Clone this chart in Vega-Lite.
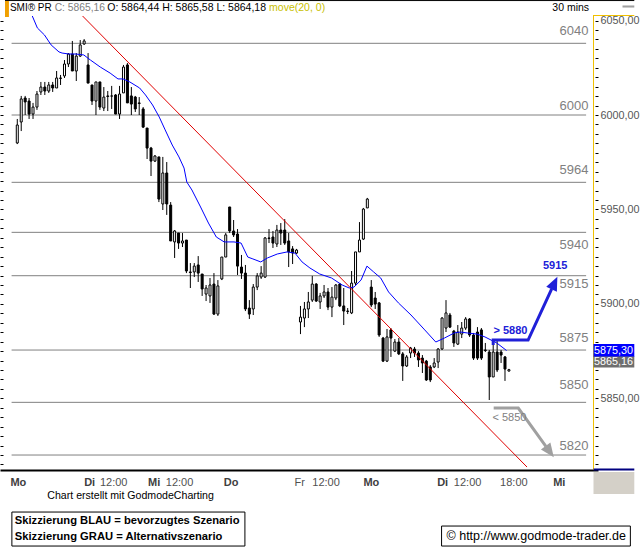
{
"$schema": "https://vega.github.io/schema/vega-lite/v6.json",
"width": 598, "height": 454,
"autosize": {"type": "none"},
"padding": {"left": 0, "top": 16, "right": 42, "bottom": 80},
"background": "white",
"config": {"view": {"stroke": null}, "font": "Liberation Sans"},
"resolve": {"axis": {"x": "independent", "y": "independent"}},
"datasets": {
"candles": [
{"i":0,"o":5985.2,"h":5997.9,"l":5984.6,"c":5994.7},
{"i":1,"o":5996.3,"h":6010.1,"l":5991.5,"c":6008.5},
{"i":2,"o":6009.0,"h":6010.1,"l":6000.0,"c":6006.9},
{"i":3,"o":6007.4,"h":6009.0,"l":5997.9,"c":6000.5},
{"i":4,"o":6000.5,"h":6006.4,"l":5997.9,"c":6004.2},
{"i":5,"o":6004.2,"h":6012.7,"l":6002.7,"c":6011.1},
{"i":6,"o":6012.2,"h":6017.5,"l":6010.6,"c":6014.8},
{"i":7,"o":6014.8,"h":6017.5,"l":6010.6,"c":6012.7},
{"i":8,"o":6012.7,"h":6017.5,"l":6011.7,"c":6015.9},
{"i":9,"o":6015.9,"h":6017.5,"l":6012.2,"c":6014.3},
{"i":10,"o":6014.3,"h":6023.3,"l":6014.3,"c":6019.6},
{"i":11,"o":6019.6,"h":6021.2,"l":6015.9,"c":6019.4},
{"i":12,"o":6020.7,"h":6029.1,"l":6019.6,"c":6027.0},
{"i":13,"o":6027.0,"h":6032.8,"l":6025.4,"c":6032.3},
{"i":14,"o":6032.3,"h":6039.2,"l":6023.3,"c":6023.3},
{"i":15,"o":6023.3,"h":6032.8,"l":6018.0,"c":6031.2},
{"i":16,"o":6031.2,"h":6039.7,"l":6030.7,"c":6037.1},
{"i":17,"o":6037.6,"h":6040.2,"l":6037.1,"c":6039.2},
{"i":18,"o":6026.5,"h":6032.8,"l":6016.9,"c":6016.9},
{"i":19,"o":6015.9,"h":6015.9,"l":6005.3,"c":6007.4},
{"i":20,"o":6007.4,"h":6017.5,"l":6000.0,"c":6017.5},
{"i":21,"o":6017.5,"h":6017.5,"l":6002.7,"c":6004.2},
{"i":22,"o":6003.7,"h":6014.8,"l":6002.1,"c":6009.5},
{"i":23,"o":6010.1,"h":6012.7,"l":6002.1,"c":6009.8},
{"i":24,"o":6010.0,"h":6015.4,"l":6003.2,"c":6010.1},
{"i":25,"o":6010.6,"h":6011.1,"l":6000.5,"c":6000.5},
{"i":26,"o":6000.5,"h":6015.4,"l":5997.9,"c":6011.1},
{"i":27,"o":6011.7,"h":6026.5,"l":6011.7,"c":6025.4},
{"i":28,"o":6026.5,"h":6027.5,"l":6006.4,"c":6006.4},
{"i":29,"o":6010.1,"h":6014.8,"l":6000.0,"c":6005.8},
{"i":30,"o":6009.5,"h":6010.1,"l":6001.6,"c":6003.2},
{"i":31,"o":6006.4,"h":6009.5,"l":6000.0,"c":6006.1},
{"i":32,"o":6003.2,"h":6004.2,"l":5993.1,"c":5993.6},
{"i":33,"o":5993.1,"h":5993.1,"l":5976.7,"c":5982.5},
{"i":34,"o":5982.5,"h":5983.1,"l":5967.7,"c":5975.6},
{"i":35,"o":5975.6,"h":5978.8,"l":5975.1,"c":5978.3},
{"i":36,"o":5977.8,"h":5977.8,"l":5953.9,"c":5955.5},
{"i":37,"o":5952.9,"h":5977.8,"l":5949.7,"c":5969.3},
{"i":38,"o":5969.3,"h":5975.1,"l":5947.1,"c":5952.9},
{"i":39,"o":5952.3,"h":5953.9,"l":5933.3,"c":5933.3},
{"i":40,"o":5932.8,"h":5939.1,"l":5924.3,"c":5938.6},
{"i":41,"o":5937.5,"h":5937.5,"l":5929.1,"c":5932.2},
{"i":42,"o":5932.2,"h":5937.5,"l":5930.1,"c":5933.3},
{"i":43,"o":5933.8,"h":5933.8,"l":5916.3,"c":5917.4},
{"i":44,"o":5916.9,"h":5921.6,"l":5908.4,"c":5916.6},
{"i":45,"o":5916.9,"h":5921.6,"l":5914.2,"c":5920.0},
{"i":46,"o":5920.6,"h":5925.3,"l":5911.6,"c":5916.3},
{"i":47,"o":5915.8,"h":5915.8,"l":5904.2,"c":5907.9},
{"i":48,"o":5905.2,"h":5910.0,"l":5901.5,"c":5908.4},
{"i":49,"o":5904.2,"h":5913.7,"l":5900.5,"c":5910.0},
{"i":50,"o":5910.5,"h":5916.3,"l":5894.1,"c":5894.6},
{"i":51,"o":5894.6,"h":5912.6,"l":5893.6,"c":5909.5},
{"i":52,"o":5913.2,"h":5924.8,"l":5912.6,"c":5924.8},
{"i":53,"o":5924.8,"h":5937.5,"l":5924.8,"c":5936.5},
{"i":54,"o":5951.3,"h":5951.3,"l":5937.5,"c":5938.6},
{"i":55,"o":5938.6,"h":5944.4,"l":5935.4,"c":5936.5},
{"i":56,"o":5937.0,"h":5939.6,"l":5915.3,"c":5920.0},
{"i":57,"o":5919.5,"h":5925.9,"l":5913.2,"c":5916.3},
{"i":58,"o":5916.3,"h":5920.6,"l":5896.2,"c":5897.3},
{"i":59,"o":5897.8,"h":5902.0,"l":5892.0,"c":5894.6},
{"i":60,"o":5897.3,"h":5910.5,"l":5894.1,"c":5908.9},
{"i":61,"o":5908.9,"h":5916.3,"l":5907.3,"c":5914.8},
{"i":62,"o":5914.2,"h":5920.0,"l":5913.2,"c":5916.3},
{"i":63,"o":5914.2,"h":5935.4,"l":5913.7,"c":5934.9},
{"i":64,"o":5934.9,"h":5939.6,"l":5932.2,"c":5934.6},
{"i":65,"o":5935.4,"h":5938.6,"l":5929.6,"c":5932.2},
{"i":66,"o":5931.7,"h":5941.8,"l":5930.1,"c":5939.1},
{"i":67,"o":5939.1,"h":5942.8,"l":5931.2,"c":5937.5},
{"i":68,"o":5939.1,"h":5944.9,"l":5931.2,"c":5932.2},
{"i":69,"o":5933.3,"h":5937.5,"l":5919.5,"c":5927.5},
{"i":70,"o":5929.1,"h":5930.6,"l":5921.1,"c":5926.9},
{"i":71,"o":5926.9,"h":5929.1,"l":5926.4,"c":5928.5},
{"i":72,"o":5890.4,"h":5898.9,"l":5884.0,"c":5893.0},
{"i":73,"o":5892.5,"h":5901.0,"l":5887.7,"c":5897.3},
{"i":74,"o":5897.3,"h":5906.3,"l":5892.5,"c":5901.0},
{"i":75,"o":5902.0,"h":5914.8,"l":5901.0,"c":5910.5},
{"i":76,"o":5910.5,"h":5911.0,"l":5901.0,"c":5901.5},
{"i":77,"o":5901.0,"h":5905.8,"l":5897.3,"c":5904.2},
{"i":78,"o":5904.2,"h":5910.0,"l":5903.1,"c":5906.3},
{"i":79,"o":5906.3,"h":5908.4,"l":5896.7,"c":5898.3},
{"i":80,"o":5898.3,"h":5908.9,"l":5893.0,"c":5903.6},
{"i":81,"o":5903.1,"h":5910.5,"l":5902.0,"c":5910.0},
{"i":82,"o":5910.5,"h":5911.0,"l":5898.3,"c":5898.9},
{"i":83,"o":5898.9,"h":5908.4,"l":5888.8,"c":5896.2},
{"i":84,"o":5896.2,"h":5897.8,"l":5894.6,"c":5896.0},
{"i":85,"o":5895.2,"h":5917.4,"l":5894.6,"c":5911.0},
{"i":86,"o":5911.0,"h":5927.5,"l":5910.0,"c":5927.5},
{"i":87,"o":5927.5,"h":5943.3,"l":5927.5,"c":5933.8},
{"i":88,"o":5934.3,"h":5950.8,"l":5933.8,"c":5950.2},
{"i":89,"o":5950.8,"h":5956.1,"l":5950.8,"c":5955.5},
{"i":90,"o":5908.9,"h":5912.6,"l":5898.3,"c":5899.4},
{"i":91,"o":5903.1,"h":5906.3,"l":5897.3,"c":5899.9},
{"i":92,"o":5900.5,"h":5901.0,"l":5882.5,"c":5883.5},
{"i":93,"o":5881.9,"h":5882.5,"l":5869.2,"c":5869.7},
{"i":94,"o":5869.7,"h":5886.7,"l":5869.2,"c":5882.5},
{"i":95,"o":5886.2,"h":5887.2,"l":5871.9,"c":5881.9},
{"i":96,"o":5875.0,"h":5881.4,"l":5874.5,"c":5879.8},
{"i":97,"o":5879.8,"h":5881.9,"l":5872.9,"c":5873.5},
{"i":98,"o":5873.5,"h":5874.5,"l":5859.2,"c":5867.1},
{"i":99,"o":5867.1,"h":5872.9,"l":5866.6,"c":5871.9},
{"i":100,"o":5874.0,"h":5877.2,"l":5871.3,"c":5876.6},
{"i":101,"o":5876.1,"h":5877.2,"l":5871.9,"c":5874.0},
{"i":102,"o":5874.0,"h":5875.0,"l":5866.6,"c":5870.3},
{"i":103,"o":5871.3,"h":5872.9,"l":5863.4,"c":5868.7},
{"i":104,"o":5869.7,"h":5870.3,"l":5859.2,"c":5859.7},
{"i":105,"o":5866.6,"h":5867.6,"l":5858.6,"c":5859.7},
{"i":106,"o":5866.6,"h":5871.3,"l":5866.0,"c":5868.7},
{"i":107,"o":5869.2,"h":5876.6,"l":5866.0,"c":5876.1},
{"i":108,"o":5876.1,"h":5893.0,"l":5875.6,"c":5892.5},
{"i":109,"o":5887.2,"h":5902.0,"l":5885.1,"c":5895.2},
{"i":110,"o":5894.1,"h":5895.2,"l":5887.2,"c":5887.7},
{"i":111,"o":5885.6,"h":5886.2,"l":5877.2,"c":5879.3},
{"i":112,"o":5878.7,"h":5888.8,"l":5878.2,"c":5885.1},
{"i":113,"o":5884.0,"h":5890.4,"l":5881.9,"c":5887.2},
{"i":114,"o":5887.2,"h":5893.0,"l":5886.2,"c":5892.0},
{"i":115,"o":5892.0,"h":5892.5,"l":5882.5,"c":5883.5},
{"i":116,"o":5883.5,"h":5884.6,"l":5870.3,"c":5871.3},
{"i":117,"o":5885.1,"h":5887.7,"l":5870.3,"c":5871.3},
{"i":118,"o":5886.2,"h":5887.2,"l":5870.3,"c":5871.3},
{"i":119,"o":5875.6,"h":5879.3,"l":5874.5,"c":5875.3},
{"i":120,"o":5874.5,"h":5875.6,"l":5849.1,"c":5861.3},
{"i":121,"o":5861.3,"h":5879.8,"l":5861.3,"c":5874.5},
{"i":122,"o":5874.5,"h":5880.9,"l":5863.9,"c":5865.0},
{"i":123,"o":5874.5,"h":5875.6,"l":5868.7,"c":5872.9},
{"i":124,"o":5871.9,"h":5872.4,"l":5859.2,"c":5865.5},
{"i":125,"o":5864.44,"h":5865.58,"l":5864.18,"c":5865.16}
],
"ma": [
{"i":3.6,"p":6053.5},{"i":5.1,"p":6046.1},{"i":6.9,"p":6042.4},{"i":8.6,"p":6037.1},{"i":10.6,"p":6033.4},
{"i":11.4,"p":6032.8},{"i":13.1,"p":6032.3},{"i":14.9,"p":6032.3},{"i":16.9,"p":6031.8},{"i":18.6,"p":6029.1},
{"i":21.1,"p":6025.4},{"i":23.6,"p":6022.2},{"i":25.6,"p":6019.1},{"i":26.9,"p":6019.1},{"i":28.6,"p":6017.5},
{"i":31.1,"p":6014.3},{"i":32.6,"p":6010.6},{"i":34.4,"p":6005.3},{"i":36.1,"p":5998.9},{"i":37.6,"p":5992.1},
{"i":39.4,"p":5984.1},{"i":41.1,"p":5977.8},{"i":42.4,"p":5971.9},{"i":43.1,"p":5964.5},{"i":44.4,"p":5960.3},
{"i":46.6,"p":5951.3},{"i":48.6,"p":5942.8},{"i":50.6,"p":5935.4},{"i":52.6,"p":5932.8},{"i":55.1,"p":5932.8},
{"i":56.9,"p":5932.2},{"i":58.6,"p":5924.8},{"i":59.9,"p":5923.8},{"i":61.9,"p":5922.2},{"i":63.6,"p":5924.3},
{"i":66.1,"p":5926.4},{"i":68.6,"p":5927.5},{"i":70.6,"p":5926.9},{"i":72.4,"p":5922.2},{"i":74.4,"p":5919.0},
{"i":76.9,"p":5915.8},{"i":79.9,"p":5913.7},{"i":82.6,"p":5910.0},{"i":84.4,"p":5908.4},{"i":85.6,"p":5908.9},
{"i":87.4,"p":5912.6},{"i":88.9,"p":5920.0},{"i":90.6,"p":5916.9},{"i":92.4,"p":5913.7},{"i":94.4,"p":5906.3},
{"i":96.9,"p":5900.5},{"i":100.1,"p":5894.1},{"i":103.6,"p":5886.2},{"i":106.4,"p":5879.8},{"i":108.6,"p":5881.9},
{"i":111.1,"p":5884.6},{"i":112.6,"p":5885.1},{"i":114.4,"p":5884.6},{"i":116.9,"p":5884.0},{"i":118.9,"p":5882.5},
{"i":121.9,"p":5879.3},{"i":124.4,"p":5875.3}
],
"levels": [
{"p":6037.96,"t":"6040"},{"p":6000.0,"t":"6000"},{"p":5964.36,"t":"5964"},{"p":5937.88,"t":"5940"},
{"p":5914.91,"t":"5915"},{"p":5875.56,"t":"5875"},{"p":5847.87,"t":"5850"},{"p":5819.97,"t":"5820"}
],
"trend": [{"i":16.6,"p":6052.42},{"i":129.6,"p":5813.61}],
"bluepath": [{"k":0,"i":121.0,"p":5878.2},{"k":1,"i":121.0,"p":5880.86},{"k":2,"i":129.875,"p":5880.86},{"k":3,"i":135.875,"p":5907.9}],
"greypath": [{"k":0,"i":121.125,"p":5844.85},{"k":1,"i":127.375,"p":5844.85},{"k":2,"i":134.4,"p":5824.6}]
},
"layer": [
{"data": {"name": "levels"},
 "mark": {"type": "rule", "color": "#808080", "strokeWidth": 1},
 "encoding": {
  "y": {"field": "p", "type": "quantitative", "scale": {"domain": [5812.04, 6052.42], "nice": false, "zero": false},
        "axis": {"orient": "left", "values": [5815,5820,5825,5830,5835,5840,5845,5850,5855,5860,5865,5870,5875,5880,5885,5890,5895,5900,5905,5910,5915,5920,5925,5930,5935,5940,5945,5950,5955,5960,5965,5970,5975,5980,5985,5990,5995,6000,6005,6010,6015,6020,6025,6030,6035,6040,6045,6050],
                 "labels": false, "domain": false, "ticks": true, "tickSize": 3, "offset": -3, "tickColor": "black", "grid": false, "title": null}},
  "x": {"datum": -1.45, "type": "quantitative", "scale": {"domain": [-3.125, 146.375], "nice": false, "zero": false}, "axis": null},
  "x2": {"datum": 144.625}
 }},
{"data": {"name": "levels"}, "transform": [{"filter": "indexof(['6040','5964','5875'], datum.t) >= 0"}],
 "mark": {"type": "text", "align": "right", "baseline": "middle", "fontSize": 13, "color": "#808080", "dy": -12},
 "encoding": {"y": {"field": "p", "type": "quantitative", "axis": null}, "x": {"datum": 145.2, "type": "quantitative", "axis": null}, "text": {"field": "t"}}},
{"data": {"name": "levels"}, "transform": [{"filter": "indexof(['6000','5820'], datum.t) >= 0"}],
 "mark": {"type": "text", "align": "right", "baseline": "middle", "fontSize": 13, "color": "#808080", "dy": -9},
 "encoding": {"y": {"field": "p", "type": "quantitative", "axis": null}, "x": {"datum": 145.2, "type": "quantitative", "axis": null}, "text": {"field": "t"}}},
{"data": {"name": "levels"}, "transform": [{"filter": "datum.t == '5850'"}],
 "mark": {"type": "text", "align": "right", "baseline": "middle", "fontSize": 13, "color": "#808080", "dy": -17},
 "encoding": {"y": {"field": "p", "type": "quantitative", "axis": null}, "x": {"datum": 145.2, "type": "quantitative", "axis": null}, "text": {"field": "t"}}},
{"data": {"name": "levels"}, "transform": [{"filter": "datum.t == '5940'"}],
 "mark": {"type": "text", "align": "right", "baseline": "middle", "fontSize": 13, "color": "#808080", "dy": 13},
 "encoding": {"y": {"field": "p", "type": "quantitative", "axis": null}, "x": {"datum": 145.2, "type": "quantitative", "axis": null}, "text": {"field": "t"}}},
{"data": {"name": "levels"}, "transform": [{"filter": "datum.t == '5915'"}],
 "mark": {"type": "text", "align": "right", "baseline": "middle", "fontSize": 13, "color": "#808080", "dy": 8.5},
 "encoding": {"y": {"field": "p", "type": "quantitative", "axis": null}, "x": {"datum": 145.2, "type": "quantitative", "axis": null}, "text": {"field": "t"}}},
{"data": {"name": "candles"},
 "mark": {"type": "rule", "color": "black", "strokeWidth": 1},
 "encoding": {
  "x": {"field": "i", "type": "quantitative",
        "axis": {"orient": "bottom", "values": [-1.875, 16.875, 33.125, 52.375, 87.875, 106.625, 136.125],
                 "labelExpr": "datum.value < 0 ? 'Mo' : datum.value < 20 ? 'Di' : datum.value < 40 ? 'Mi' : datum.value < 60 ? 'Do' : datum.value < 100 ? 'Mo' : datum.value < 120 ? 'Di' : 'Mi'",
                 "labelAlign": "left", "labelBaseline": "top", "labelFontWeight": "bold", "labelFontSize": 11, "labelColor": "#404040", "labelFont": "Liberation Sans",
                 "labelPadding": 6, "ticks": false, "tickSize": 0, "domain": true, "domainColor": "black", "domainWidth": 2, "grid": false, "title": null, "labelOverlap": false, "labelFlush": false}},
  "y": {"field": "l", "type": "quantitative",
        "axis": {"orient": "right", "values": [5815,5820,5825,5830,5835,5840,5845,5850,5855,5860,5865,5870,5875,5880,5885,5890,5895,5900,5905,5910,5915,5920,5925,5930,5935,5940,5945,5950,5955,5960,5965,5970,5975,5980,5985,5990,5995,6000,6005,6010,6015,6020,6025,6030,6035,6040,6045,6050],
                 "labelExpr": "datum.value % 50 === 0 ? replace(format(datum.value, '.2f'), '.', ',') : ''",
                 "domain": false, "ticks": true, "tickSize": 3, "offset": -3, "tickColor": "black", "labelPadding": 2,
                 "labelFontSize": 10.8, "labelColor": "#555555", "labelFont": "Liberation Sans", "grid": false, "title": null, "labelOverlap": false, "labelFlush": false}},
  "y2": {"field": "h"}
 }},
{"data": {"name": "candles"},
 "mark": {"type": "bar", "size": 2, "stroke": "black", "strokeWidth": 1},
 "encoding": {
  "x": {"field": "i", "type": "quantitative",
        "axis": {"orient": "bottom", "values": [20.875, 37.625, 70.375, 74.875, 110.875, 122.625],
                 "labelExpr": "(datum.value > 60 && datum.value < 72) ? 'Fr' : datum.value > 120 ? '18:00' : '12:00'",
                 "labelAlign": "left", "labelBaseline": "top", "labelFontSize": 11, "labelColor": "#505050", "labelFont": "Liberation Sans",
                 "labelPadding": 6, "ticks": false, "tickSize": 0, "domain": false, "grid": false, "title": null, "labelOverlap": false, "labelFlush": false}},
  "y": {"field": "o", "type": "quantitative", "axis": null},
  "y2": {"field": "c"},
  "fill": {"condition": {"test": "datum.c >= datum.o", "value": "white"}, "value": "black"}
 }},
{"data": {"name": "ma"},
 "mark": {"type": "line", "color": "#0000ff", "strokeWidth": 1, "clip": true},
 "encoding": {"x": {"field": "i", "type": "quantitative", "axis": null}, "y": {"field": "p", "type": "quantitative", "axis": null}}},
{"data": {"name": "trend"},
 "mark": {"type": "line", "color": "#e00000", "strokeWidth": 1},
 "encoding": {"x": {"field": "i", "type": "quantitative", "axis": null}, "y": {"field": "p", "type": "quantitative", "axis": null}}},
{"data": {"name": "bluepath"},
 "mark": {"type": "line", "color": "#2020d8", "strokeWidth": 3, "strokeJoin": "miter"},
 "encoding": {"x": {"field": "i", "type": "quantitative", "axis": null}, "y": {"field": "p", "type": "quantitative", "axis": null}, "order": {"field": "k"}}},
{"data": {"values": [{}]},
 "mark": {"type": "point", "shape": "M0,-1L0.85,1L-0.85,1Z", "filled": true, "color": "#2020d8", "opacity": 1, "size": 190, "angle": 25},
 "encoding": {"x": {"datum": 136.575, "type": "quantitative", "axis": null}, "y": {"datum": 5911.04, "type": "quantitative", "axis": null}}},
{"data": {"name": "greypath"},
 "mark": {"type": "line", "color": "#a0a0a0", "strokeWidth": 3, "strokeJoin": "miter"},
 "encoding": {"x": {"field": "i", "type": "quantitative", "axis": null}, "y": {"field": "p", "type": "quantitative", "axis": null}, "order": {"field": "k"}}},
{"data": {"values": [{}]},
 "mark": {"type": "point", "shape": "M0,-1L0.85,1L-0.85,1Z", "filled": true, "color": "#a0a0a0", "opacity": 1, "size": 190, "angle": 143.7},
 "encoding": {"x": {"datum": 135.375, "type": "quantitative", "axis": null}, "y": {"datum": 5821.77, "type": "quantitative", "axis": null}}},
{"data": {"values": [{}]},
 "mark": {"type": "text", "text": "> 5880", "align": "center", "baseline": "middle", "fontSize": 11, "fontWeight": "bold", "color": "#2020d8"},
 "encoding": {"x": {"datum": 125.375, "type": "quantitative", "axis": null}, "y": {"datum": 5885.63, "type": "quantitative", "axis": null}}},
{"data": {"values": [{}]},
 "mark": {"type": "text", "text": "5915", "align": "center", "baseline": "middle", "fontSize": 11, "fontWeight": "bold", "color": "#2020d8"},
 "encoding": {"x": {"datum": 136.75, "type": "quantitative", "axis": null}, "y": {"datum": 5920.31, "type": "quantitative", "axis": null}}},
{"data": {"values": [{}]},
 "mark": {"type": "text", "text": "< 5850", "align": "center", "baseline": "middle", "fontSize": 11, "color": "#808080"},
 "encoding": {"x": {"datum": 125.125, "type": "quantitative", "axis": null}, "y": {"datum": 5839.56, "type": "quantitative", "axis": null}}},
{"data": {"values": [{}]},
 "mark": {"type": "rule", "color": "#f0c000", "strokeWidth": 1},
 "encoding": {"x": {"datum": 146.5, "type": "quantitative", "axis": null}}},
{"data": {"values": [{}]},
 "mark": {"type": "rule", "color": "#f0c000", "strokeWidth": 1},
 "encoding": {"x": {"datum": 146.375, "type": "quantitative", "axis": null}, "x2": {"datum": 156.875}, "y": {"datum": 6052.68, "type": "quantitative", "axis": null}}},
{"data": {"values": [{}]},
 "mark": {"type": "rule", "color": "#000080", "strokeWidth": 2},
 "encoding": {"x": {"datum": 146.5, "type": "quantitative", "axis": null}, "x2": {"datum": 156.875}, "y": {"datum": 5812.29, "type": "quantitative", "axis": null}}},
{"data": {"values": [{}]},
 "mark": {"type": "rect", "color": "#0000ff"},
 "encoding": {"x": {"datum": 146.5, "type": "quantitative", "axis": null}, "x2": {"datum": 156.875}, "y": {"datum": 5878.74, "type": "quantitative", "axis": null}, "y2": {"datum": 5871.86}}},
{"data": {"values": [{}]},
 "mark": {"type": "text", "text": "5875,30", "align": "left", "baseline": "middle", "fontSize": 10.8, "color": "white"},
 "encoding": {"x": {"datum": 146.625, "type": "quantitative", "axis": null}, "y": {"datum": 5875.3, "type": "quantitative", "axis": null}}},
{"data": {"values": [{}]},
 "mark": {"type": "rect", "color": "#6e6e6e"},
 "encoding": {"x": {"datum": 146.5, "type": "quantitative", "axis": null}, "x2": {"datum": 156.875}, "y": {"datum": 5872.12, "type": "quantitative", "axis": null}, "y2": {"datum": 5866.3}}},
{"data": {"values": [{}]},
 "mark": {"type": "text", "text": "5865,16", "align": "left", "baseline": "middle", "fontSize": 10.8, "color": "white"},
 "encoding": {"x": {"datum": 146.625, "type": "quantitative", "axis": null}, "y": {"datum": 5869.21, "type": "quantitative", "axis": null}}},
{"data": {"values": [{}]},
 "mark": {"type": "rule", "color": "black", "strokeWidth": 1},
 "encoding": {"x": {"datum": -3.125, "type": "quantitative", "axis": null}, "x2": {"datum": 156.875}, "y": {"datum": 6060.6, "type": "quantitative", "axis": null}}},
{"data": {"values": [{}]},
 "mark": {"type": "rect", "color": "#f0a000"},
 "encoding": {"x": {"datum": -3.125, "type": "quantitative", "axis": null}, "x2": {"datum": -2.125}, "y": {"datum": 6060.36, "type": "quantitative", "axis": null}, "y2": {"datum": 6051.89}}},
{"data": {"values": [{}]},
 "mark": {"type": "text", "text": "SMI® PR", "align": "left", "baseline": "middle", "fontSize": 10, "color": "black"},
 "encoding": {"x": {"datum": -1.875, "type": "quantitative", "axis": null}, "y": {"datum": 6056.65, "type": "quantitative", "axis": null}}},
{"data": {"values": [{}]},
 "mark": {"type": "text", "text": "C: 5865,16", "align": "left", "baseline": "middle", "fontSize": 10.3, "color": "#808080"},
 "encoding": {"x": {"datum": 9.5, "type": "quantitative", "axis": null}, "y": {"datum": 6056.65, "type": "quantitative", "axis": null}}},
{"data": {"values": [{}]},
 "mark": {"type": "text", "text": "O: 5864,44 H: 5865,58 L: 5864,18", "align": "left", "baseline": "middle", "fontSize": 10.5, "color": "black"},
 "encoding": {"x": {"datum": 22.875, "type": "quantitative", "axis": null}, "y": {"datum": 6056.65, "type": "quantitative", "axis": null}}},
{"data": {"values": [{}]},
 "mark": {"type": "text", "text": "move(20, 0)", "align": "left", "baseline": "middle", "fontSize": 10.5, "color": "#c8c000"},
 "encoding": {"x": {"datum": 64.025, "type": "quantitative", "axis": null}, "y": {"datum": 6056.65, "type": "quantitative", "axis": null}}},
{"data": {"values": [{}]},
 "mark": {"type": "text", "text": "30 mins", "align": "right", "baseline": "middle", "fontSize": 10.5, "color": "black"},
 "encoding": {"x": {"datum": 145.375, "type": "quantitative", "axis": null}, "y": {"datum": 6056.65, "type": "quantitative", "axis": null}}},
{"data": {"values": [{}]},
 "mark": {"type": "rect", "color": "#a0a0a0"},
 "encoding": {"x": {"datum": 153.875, "type": "quantitative", "axis": null}, "x2": {"datum": 156.875}, "y": {"datum": 6058.0, "type": "quantitative", "axis": null}, "y2": {"datum": 6056.9}}},
{"data": {"values": [{}]},
 "mark": {"type": "rect", "color": "#d4d0c8"},
 "encoding": {"x": {"datum": 146.5, "type": "quantitative", "axis": null}, "x2": {"datum": 156.875}, "y": {"datum": 5810.97, "type": "quantitative", "axis": null}, "y2": {"datum": 5799.32}}},
{"data": {"values": [{}]},
 "mark": {"type": "text", "text": "Chart erstellt mit GodmodeCharting", "align": "left", "baseline": "middle", "fontSize": 10.6, "color": "black"},
 "encoding": {"x": {"datum": 7.625, "type": "quantitative", "axis": null}, "y": {"datum": 5798.26, "type": "quantitative", "axis": null}}},
{"data": {"values": [{}]},
 "mark": {"type": "rect", "fill": "white", "stroke": "black", "strokeWidth": 1},
 "encoding": {"x": {"datum": -1.375, "type": "quantitative", "axis": null}, "x2": {"datum": 57.875}, "y": {"datum": 5789.78, "type": "quantitative", "axis": null}, "y2": {"datum": 5771.78}}},
{"data": {"values": [{}]},
 "mark": {"type": "text", "text": "Skizzierung BLAU = bevorzugtes Szenario", "align": "left", "baseline": "middle", "fontSize": 11.2, "fontWeight": "bold", "color": "black"},
 "encoding": {"x": {"datum": -0.625, "type": "quantitative", "axis": null}, "y": {"datum": 5785.02, "type": "quantitative", "axis": null}}},
{"data": {"values": [{}]},
 "mark": {"type": "text", "text": "Skizzierung GRAU = Alternativszenario", "align": "left", "baseline": "middle", "fontSize": 11.2, "fontWeight": "bold", "color": "black"},
 "encoding": {"x": {"datum": -0.625, "type": "quantitative", "axis": null}, "y": {"datum": 5776.55, "type": "quantitative", "axis": null}}},
{"data": {"values": [{}]},
 "mark": {"type": "rect", "fill": "white", "stroke": "black", "strokeWidth": 1},
 "encoding": {"x": {"datum": 107.875, "type": "quantitative", "axis": null}, "x2": {"datum": 155.875}, "y": {"datum": 5782.37, "type": "quantitative", "axis": null}, "y2": {"datum": 5771.78}}},
{"data": {"values": [{}]},
 "mark": {"type": "text", "text": "© http://www.godmode-trader.de", "align": "left", "baseline": "middle", "fontSize": 12.5, "color": "black"},
 "encoding": {"x": {"datum": 109.125, "type": "quantitative", "axis": null}, "y": {"datum": 5777.08, "type": "quantitative", "axis": null}}}
]
}
